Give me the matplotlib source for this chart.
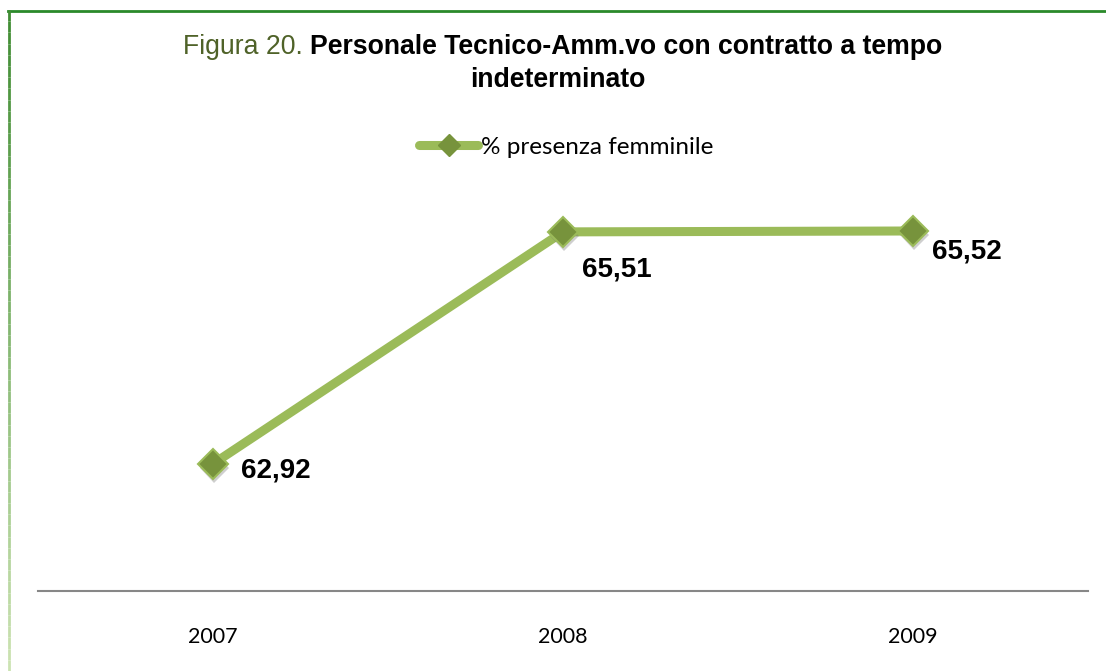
import matplotlib.pyplot as plt
import numpy as np
from matplotlib.collections import LineCollection
from matplotlib.lines import Line2D
import matplotlib.patheffects as pe

years = ["2007", "2008", "2009"]
pct_female = [62.92, 65.51, 65.52]
value_labels = ["62,92", "65,51", "65,52"]
# label offsets (points) from each marker
label_offsets = [(20, -5), (14, -27), (14, -15)]

GREEN = "#9BBB59"
DARK = "#77933C"

fig = plt.figure(figsize=(11.06, 6.71), dpi=100)
ax = fig.add_axes([38 / 1106, 80 / 671, 1050 / 1106, 403 / 671])

x = np.arange(len(years))
ax.plot(x, pct_female, color=GREEN, lw=6.5, solid_capstyle="round",
        zorder=2)
ax.plot(x, pct_female, ls="none", marker="D", ms=15, mfc=DARK,
        mec=GREEN, mew=1.5, zorder=3,
        path_effects=[pe.SimplePatchShadow(offset=(1, -3), alpha=0.35,
                                           shadow_rgbFace="#777777"),
                      pe.Normal()])

for xi, v, lab, off in zip(x, pct_female, value_labels, label_offsets):
    ax.annotate(lab, (xi, v), xytext=off, textcoords="offset points",
                ha="left", va="center", fontsize=20, fontweight="bold",
                family="Liberation Sans", color="black")

ax.set_xlim(-0.5, 2.5)
ax.set_ylim(61.5, 66)
ax.set_xticks(x)
ax.set_xticklabels(years, family="Lato", fontsize=15.5)
ax.tick_params(axis="x", length=0, pad=26)
ax.set_yticks([])
for s in ["top", "right", "left"]:
    ax.spines[s].set_visible(False)
ax.spines["bottom"].set_color("#878787")
ax.spines["bottom"].set_linewidth(1.5)

# legend
h = Line2D([0], [0], color=GREEN, lw=6.5, marker="D", ms=11,
           mfc=DARK, mec=DARK, solid_capstyle="round")
ax.legend([h], ["% presenza femminile"], loc="center",
          bbox_to_anchor=(566 / 1106, 524 / 671),
          bbox_transform=fig.transFigure, frameon=False,
          handlelength=2.45, handletextpad=0.1,
          prop={"family": "Lato", "size": 17.5})

# title: green prefix + bold text, centred as one line
y1 = 1 - 47 / 671
t1 = fig.text(0, y1, "Figura 20. ", color="#4F6228", fontsize=19.2,
              family="Liberation Sans", va="center", ha="left")
t2 = fig.text(0, y1, "Personale Tecnico-Amm.vo con contratto a tempo",
              fontsize=19.2, fontweight="bold", family="Liberation Sans",
              va="center", ha="left")
fig.canvas.draw()
w1 = t1.get_window_extent().width
w2 = t2.get_window_extent().width
x0 = 562.5 - (w1 + w2) / 2
t1.set_x(x0 / 1106)
t2.set_x((x0 + w1) / 1106)
fig.text(558 / 1106, 1 - 80 / 671, "indeterminato", fontsize=19.2,
         fontweight="bold", family="Liberation Sans", va="center",
         ha="center")

# frame: green top line, fading left line
fig.add_artist(Line2D([8 / 1106, 1], [1 - 10.5 / 671, 1 - 10.5 / 671],
                      transform=fig.transFigure, color="#2A8A2A", lw=2))
ys = np.linspace(1 - 10 / 671, 0, 60)
segs = [[(8.5 / 1106, ys[i]), (8.5 / 1106, ys[i + 1])] for i in range(59)]
c0 = np.array([0.25, 0.55, 0.2])
c1 = np.array([0.80, 0.89, 0.70])
cols = [tuple(c0 + (c1 - c0) * i / 58) for i in range(59)]
fig.add_artist(LineCollection(segs, colors=cols, lw=2,
                              transform=fig.transFigure))

fig.savefig("out.png", dpi=100)
